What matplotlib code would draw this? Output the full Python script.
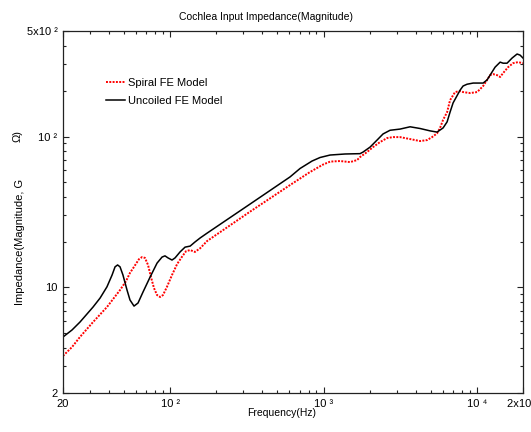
import matplotlib
matplotlib.use('Agg')
import matplotlib.pyplot as plt
from matplotlib.ticker import FixedLocator, NullFormatter

plt.rcParams['font.family'] = ['Liberation Sans', 'DejaVu Sans']
plt.rcParams['font.size'] = 8

# frequency (Hz) / impedance magnitude (ohm)
spiral_f = [20, 22.9, 25.8, 31.4, 38.7, 47.1, 51.5, 54.7, 58.1, 62.6, 65.5, 68.5,
            71.7, 75.0, 78.4, 82.1, 85.9, 89.8, 95.3, 102.8, 111, 119, 127, 135,
            145, 157, 174, 332, 605, 817, 993, 1104, 1282, 1490, 1655, 1731, 1923,
            2104, 2338, 2600, 2844, 3155, 3670, 4265, 4735, 5105, 5505, 5754,
            6025, 6397, 6687, 7210, 7780, 8130, 9040, 10040, 10500, 10990, 11660,
            12200, 12760, 13550, 14190, 14830, 15990, 17220, 18580, 20000]
spiral_z = [3.52, 4.03, 4.70, 5.90, 7.42, 9.62, 11.0, 12.5, 13.7, 15.4, 15.9, 15.7,
            14.1, 11.7, 9.91, 8.91, 8.65, 8.91, 10.1, 12.1, 14.3, 15.9, 17.4, 17.7,
            17.2, 18.2, 20.3, 31.8, 47.7, 58.2, 65.2, 68.2, 68.8, 67.7, 69.8, 73.1, 78.9,
            85.1, 91.9, 97.7, 99.1, 99.1, 96.2, 93.3, 94.7, 99.1, 105, 114,
            129, 145, 174, 197, 200, 197, 194, 197, 206, 216, 237,
            255, 259, 255, 248, 263, 288, 306, 311, 306]

uncoiled_f = [20, 22.9, 25.8, 31.4, 34.9, 38.7, 41.8, 43.7, 45.4, 47.1, 49.2, 52.3,
              54.7, 58.1, 61.7, 66.5, 73.9, 82.1, 88.5, 92.5, 96.8, 102.8, 107.6, 116,
              125, 135, 145, 157, 174, 332, 605, 703, 842, 949, 1104, 1383, 1731,
              1811, 2012, 2234, 2445, 2716, 3155, 3670, 4265, 4955, 5505, 6025,
              6397, 6687, 7000, 7780, 8130, 8630, 9460, 10990, 11660, 12200,
              13150, 14190, 14830, 15740, 16980, 18300, 19150, 20000]
uncoiled_z = [4.70, 5.23, 5.90, 7.42, 8.51, 10.1, 12.1, 13.7, 14.1, 13.7, 12.1, 9.62,
              8.26, 7.53, 7.89, 9.33, 11.7, 14.5, 15.9, 16.2, 15.7, 15.2, 15.7, 17.2,
              18.5, 18.8, 20.0, 21.3, 22.9, 35.7, 54.0, 61.4, 68.8, 72.6, 75.4, 76.6, 77.0,
              78.9, 85.1, 94.7, 104, 110, 112, 116, 113, 109, 107, 114,
              125, 145, 167, 203, 216, 222, 226, 226, 237, 255,
              288, 311, 306, 306, 331, 352, 346, 331]

x_ticks = [20, 100, 1000, 10000, 20000]
x_labels = ['20', '10 \u00b2', '10 \u00b3', '10 \u2074', '2x10 \u2074']
y_ticks = [2, 10, 100, 500]
y_labels = ['2', '10', '10 \u00b2', '5x10 \u00b2']

fig = plt.figure(figsize=(5.31, 4.32), dpi=100)
ax = fig.add_axes([63/531, 39/432, 460/531, 362/432])

ax.plot(spiral_f, spiral_z, color='red', lw=1.4, linestyle=(0, (1, 0.7)),
        label='Spiral FE Model')
ax.plot(uncoiled_f, uncoiled_z, color='black', lw=1.1, label='Uncoiled FE Model')

ax.set_xscale('log')
ax.set_yscale('log')
ax.set_xlim(20, 20000)
ax.set_ylim(2, 500)

ax.xaxis.set_major_locator(FixedLocator(x_ticks))
ax.set_xticklabels(x_labels)
ax.yaxis.set_major_locator(FixedLocator(y_ticks))
ax.set_yticklabels(y_labels)
ax.xaxis.set_minor_formatter(NullFormatter())
ax.yaxis.set_minor_formatter(NullFormatter())

for sp in ax.spines.values():
    sp.set_linewidth(0.9)
    sp.set_color('#222222')
ax.tick_params(which='both', direction='in', top=True, right=True,
               width=0.8, color='#222222', labelsize=8)
ax.tick_params(which='major', length=4.5, pad=4)
ax.tick_params(which='minor', length=2.5)

fig.text(266/531, 1 - 17/432, 'Cochlea Input Impedance(Magnitude)',
         ha='center', va='center', fontsize=7.5)
fig.text(282/531, 1 - 413/432, 'Frequency(Hz)', ha='center', va='center', fontsize=7.5)
fig.text(20/531, 1 - 242/432, 'Impedance(Magnitude, G', rotation=90,
         ha='center', va='center', fontsize=8)
fig.text(18/531, 1 - 136/432, '\u03a9)', rotation=90,
         ha='center', va='center', fontsize=8)

ax.legend(loc='upper left', bbox_to_anchor=(106/531, 1 - 78/432),
          bbox_transform=fig.transFigure, frameon=False, fontsize=8,
          handlelength=1.7, handletextpad=0.3, labelspacing=0.75,
          borderpad=0, borderaxespad=0)

fig.savefig('out.png', dpi=100)
